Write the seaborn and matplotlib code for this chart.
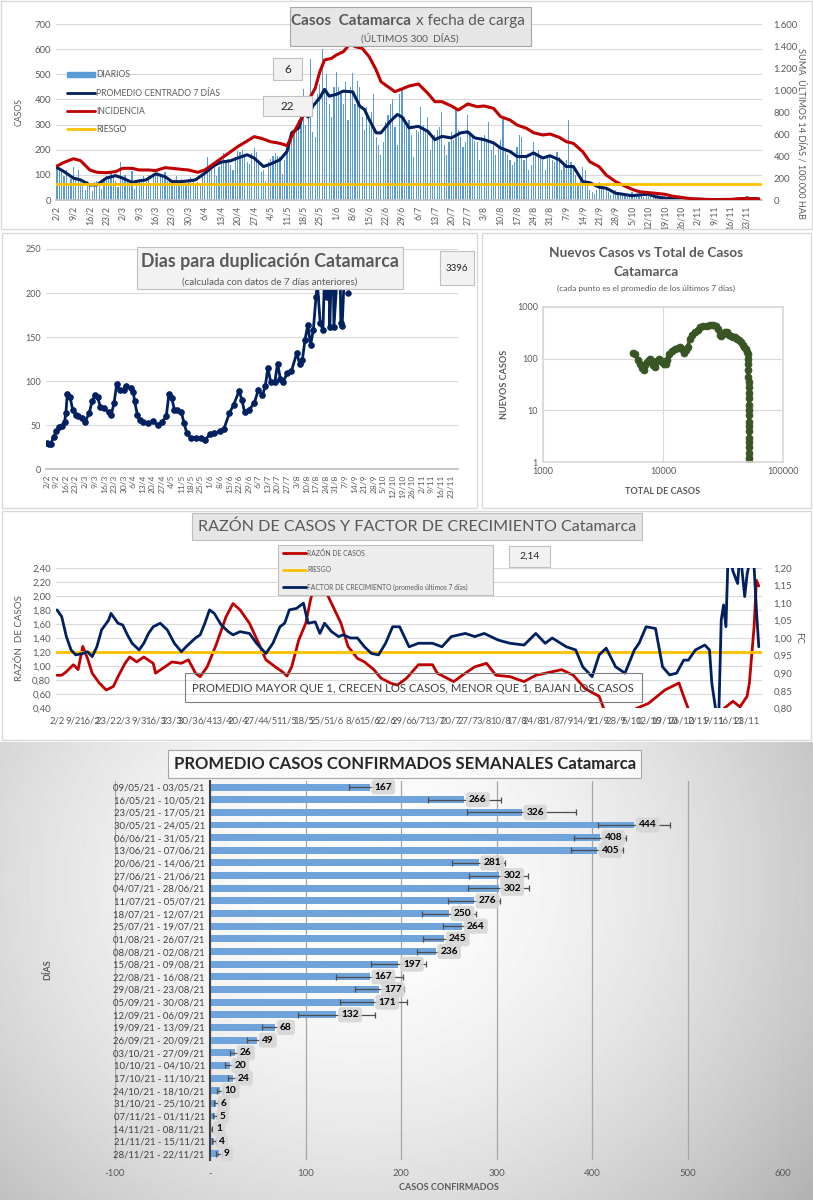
import numpy as np
import pandas as pd
import matplotlib
matplotlib.use("Agg")
import matplotlib.pyplot as plt
import seaborn as sns
from matplotlib.patches import Rectangle, Patch
from matplotlib.lines import Line2D

sns.set_theme(style="white")
plt.rcParams['font.family'] = ['Lato', 'DejaVu Sans']

W, H = 813, 1200
GRIS = '#595959'
AZUL = '#5B9BD5'
NAVY = '#002060'
ROJO = '#C00000'
AMAR = '#FFC000'
VERDE = '#375623'

# ---------------- datos ----------------
inicio = pd.Timestamp('2021-02-02')

# casos diarios (2/2 al 28/11), una semana por fila
diarios = [
    130, 125, 110, 95, 120, 60, 85,
    130, 90, 120, 70, 55, 40, 75,
    65, 35, 70, 75, 55, 45, 80,
    95, 85, 110, 100, 75, 50, 150,
    90, 100, 80, 65, 115, 45, 55,
    85, 80, 95, 70, 100, 60, 90,
    100, 115, 105, 90, 110, 75, 80,
    80, 70, 95, 75, 85, 55, 65,
    85, 90, 75, 60, 70, 55, 100,
    110, 170, 140, 120, 150, 95, 130,
    150, 185, 160, 165, 140, 120, 170,
    195, 190, 200, 175, 150, 145, 185,
    205, 190, 150, 110, 120, 75, 150,
    165, 175, 185, 175, 170, 105, 160,
    190, 210, 270, 260, 300, 320, 330,
    440, 300, 380, 560, 270, 250, 420,
    460, 600, 430, 500, 380, 330, 450,
    510, 450, 420, 380, 470, 320, 450,
    505, 380, 475, 450, 330, 280, 370,
    300, 350, 420, 250, 220, 180, 230,
    310, 340, 380, 400, 290, 220, 420,
    440, 330, 300, 320, 260, 170, 280,
    270, 370, 300, 280, 330, 200, 250,
    260, 280, 290, 350, 220, 180, 230,
    270, 240, 360, 280, 250, 210, 230,
    340, 260, 250, 235, 230, 160, 250,
    260, 240, 310, 200, 220, 180, 210,
    240, 330, 200, 180, 160, 140, 150,
    210, 260, 250, 160, 170, 120, 140,
    230, 190, 200, 180, 160, 120, 170,
    180, 160, 150, 190, 170, 120, 140,
    160, 320, 150, 120, 100, 60, 90,
    130, 120, 70, 40, 30, 25, 40,
    70, 55, 45, 50, 30, 20, 35,
    40, 30, 25, 20, 25, 10, 20,
    30, 25, 20, 20, 15, 10, 15,
    35, 30, 25, 20, 20, 10, 15,
    15, 12, 10, 8, 10, 5, 6,
    8, 6, 7, 5, 6, 3, 4,
    6, 5, 4, 5, 3, 2, 4,
    2, 1, 1, 0, 1, 1, 2,
    3, 5, 4, 6, 4, 3, 5,
    15, 8, 10, 12, 8, 9,
]

prom_fechas = ['2/2', '5/2', '9/2', '12/2', '16/2', '19/2', '23/2', '27/2', '2/3', '6/3', '9/3', '12/3',
               '16/3', '20/3', '23/3', '27/3', '30/3', '2/4', '6/4', '10/4', '13/4', '17/4', '20/4', '24/4',
               '27/4', '1/5', '4/5', '8/5', '11/5', '13/5', '16/5', '18/5', '20/5', '22/5', '25/5', '27/5',
               '29/5', '1/6', '4/6', '8/6', '11/6', '13/6', '15/6', '18/6', '20/6', '24/6', '27/6', '29/6',
               '2/7', '6/7', '10/7', '13/7', '16/7', '20/7', '24/7', '27/7', '30/7', '3/8', '7/8', '10/8',
               '14/8', '17/8', '21/8', '24/8', '28/8', '31/8', '4/9', '7/9', '10/9', '14/9', '17/9', '21/9',
               '24/9', '28/9', '1/10', '5/10', '8/10', '12/10', '15/10', '19/10', '26/10', '2/11', '9/11',
               '16/11', '23/11', '28/11']
prom_valores = [129, 113, 87, 80, 60, 60, 87, 97, 87, 70, 76, 80,
                104, 93, 73, 73, 76, 80, 107, 137, 151, 156, 167, 180,
                167, 133, 143, 160, 193, 267, 287, 347, 330, 373, 407, 440,
                413, 420, 433, 430, 373, 360, 320, 267, 267, 313, 340, 330,
                287, 293, 273, 240, 253, 247, 267, 271, 247, 240, 227, 207,
                193, 173, 173, 187, 167, 176, 160, 133, 133, 73, 69, 51,
                47, 27, 23, 17, 20, 23, 13, 7, 3, 3, 1,
                1, 7, 4]
prom_ultimo = '6'
inc_ultimo = '22'

inc_fechas = ['2/2', '5/2', '9/2', '12/2', '16/2', '19/2', '23/2', '27/2', '2/3', '6/3', '9/3', '13/3',
              '16/3', '20/3', '23/3', '27/3', '30/3', '3/4', '6/4', '10/4', '13/4', '17/4', '20/4', '24/4',
              '27/4', '30/4', '4/5', '8/5', '11/5', '13/5', '16/5', '18/5', '21/5', '23/5', '25/5', '27/5',
              '30/5', '1/6', '4/6', '7/6', '9/6', '12/6', '15/6', '18/6', '20/6', '22/6', '26/6', '29/6',
              '2/7', '6/7', '10/7', '13/7', '16/7', '20/7', '23/7', '27/7', '31/7', '3/8', '7/8', '10/8',
              '14/8', '17/8', '21/8', '24/8', '28/8', '31/8', '4/9', '7/9', '10/9', '14/9', '17/9', '21/9',
              '24/9', '28/9', '1/10', '5/10', '8/10', '12/10', '15/10', '19/10', '22/10', '26/10', '30/10',
              '2/11', '9/11', '16/11', '23/11', '28/11']
inc_valores = [309, 342, 375, 358, 273, 252, 248, 258, 288, 288, 273, 273,
               267, 294, 288, 279, 273, 252, 273, 333, 379, 439, 485, 536,
               576, 561, 530, 515, 494, 576, 697, 773, 939, 1015, 1167, 1273,
               1288, 1318, 1348, 1424, 1394, 1379, 1303, 1182, 1076, 1045, 985, 1010,
               1036, 1055, 970, 894, 894, 855, 818, 873, 848, 855, 833, 758,
               727, 682, 652, 612, 591, 600, 570, 530, 515, 439, 348, 303,
               227, 167, 136, 97, 76, 67, 61, 52, 36, 24, 12,
               9, 3, 6, 15, 9]
riesgo_inc = 150

dup_fechas = ['2/2', '4/2', '5/2', '7/2', '9/2', '11/2', '13/2', '15/2', '16/2', '17/2', '19/2', '21/2',
              '23/2', '25/2', '28/2', '2/3', '5/3', '7/3', '9/3', '11/3', '13/3', '16/3', '19/3', '21/3',
              '23/3', '25/3', '27/3', '30/3', '1/4', '4/4', '6/4', '7/4', '9/4', '11/4', '13/4', '17/4',
              '20/4', '24/4', '27/4', '30/4', '2/5', '4/5', '6/5', '8/5', '11/5', '13/5', '15/5', '18/5',
              '22/5', '25/5', '28/5', '1/6', '4/6', '8/6', '11/6', '15/6', '18/6', '22/6', '24/6', '26/6',
              '29/6', '3/7', '6/7', '9/7', '11/7', '13/7', '15/7', '18/7', '20/7', '22/7', '24/7', '27/7',
              '30/7', '3/8', '5/8', '7/8', '9/8', '11/8', '13/8', '15/8', '17/8', '18/8', '20/8', '22/8',
              '23/8', '25/8', '26/8', '27/8', '28/8', '29/8', '30/8', '2/9', '3/9', '4/9', '5/9', '7/9',
              '8/9', '9/9']
dup_valores = [30, 29, 29, 37, 43, 48, 49, 54, 64, 86, 82, 67,
               62, 60, 58, 54, 64, 77, 84, 82, 71, 69, 65, 62,
               75, 97, 90, 90, 95, 92, 88, 77, 62, 56, 54, 52,
               55, 50, 54, 60, 86, 81, 67, 67, 65, 52, 41, 35,
               35, 36, 33, 40, 41, 43, 46, 64, 73, 89, 79, 65,
               67, 75, 90, 84, 94, 115, 99, 99, 120, 103, 99, 109,
               111, 132, 120, 124, 147, 164, 141, 158, 196, 211, 166, 158,
               211, 196, 270, 162, 219, 290, 162, 234, 300, 166, 163, 237,
               320, 200]
dup_ultimo = '3396'

total_casos = [5600, 5900, 6200, 6500, 6700, 6900, 7100, 7300, 7600, 7800, 8100, 8300, 8600, 8900,
               9200, 9500, 9800, 10100, 10500, 10800, 11200, 11800, 12500, 13300, 13900, 14500, 15000,
               15500, 16000, 16800, 17500, 18500, 19500, 20300, 21500, 23000, 24500, 26000, 27500,
               28500, 29600, 30500, 31500, 32800, 34000, 35500, 37000, 38500, 40000, 41500, 43000,
               44500, 46000, 47500, 48800, 49800, 50500, 50900, 51100, 51200, 51300, 51400, 51450,
               51500, 51550, 51600, 51650, 51700, 51720, 51740, 51760, 51780, 51800, 51810, 51820,
               51830, 51840, 51850]
nuevos_casos = [130, 120, 95, 80, 65, 60, 75, 87, 95, 100, 90, 75, 70, 90,
                100, 95, 85, 78, 80, 95, 120, 140, 150, 160, 170, 150, 130,
                145, 170, 240, 290, 330, 360, 400, 420, 430, 440, 440, 420,
                370, 280, 270, 300, 330, 320, 290, 270, 260, 265, 240, 225,
                205, 185, 170, 150, 135, 120, 100, 80, 60, 45, 35, 28,
                22, 17, 13, 10, 8, 6, 5, 4, 3, 2.5, 2, 1.5,
                1.2, 1.0, 0.8]

razon_fechas = ['2/2', '4/2', '6/2', '9/2', '11/2', '13/2', '15/2', '17/2', '20/2', '23/2', '26/2', '28/2',
                '3/3', '5/3', '8/3', '11/3', '15/3', '16/3', '20/3', '23/3', '27/3', '30/3', '2/4', '4/4',
                '7/4', '11/4', '15/4', '18/4', '21/4', '25/4', '29/4', '2/5', '6/5', '9/5', '11/5', '13/5',
                '16/5', '19/5', '21/5', '23/5', '25/5', '28/5', '31/5', '3/6', '6/6', '10/6', '13/6', '17/6',
                '20/6', '24/6', '27/6', '1/7', '6/7', '12/7', '14/7', '21/7', '26/7', '30/7', '4/8', '8/8',
                '14/8', '20/8', '25/8', '1/9', '5/9', '10/9', '15/9', '21/9', '23/9', '27/9', '3/10', '7/10',
                '12/10', '19/10', '25/10', '27/10', '29/10', '3/11', '10/11', '14/11', '17/11', '20/11',
                '23/11', '24/11', '26/11', '27/11', '28/11']
razon_valores = [0.87, 0.87, 0.92, 1.02, 0.95, 1.28, 1.11, 0.90, 0.76, 0.66, 0.71, 0.85,
                 1.04, 1.13, 1.06, 1.13, 1.04, 0.90, 0.99, 1.06, 1.04, 1.09, 0.90, 0.85,
                 0.99, 1.32, 1.70, 1.89, 1.80, 1.61, 1.32, 1.09, 0.99, 0.92, 0.86, 0.99,
                 1.37, 1.61, 1.94, 2.20, 2.30, 2.03, 1.82, 1.61, 1.28, 1.11, 1.06, 0.95,
                 0.83, 0.76, 0.73, 0.83, 1.02, 1.02, 0.90, 0.78, 0.90, 0.99, 1.04, 0.87,
                 0.85, 0.78, 0.87, 0.92, 0.95, 0.87, 0.68, 0.57, 0.39, 0.30, 0.30, 0.40,
                 0.47, 0.66, 0.76, 0.57, 0.39, 0.30, 0.30, 0.42, 0.50, 0.42,
                 0.57, 0.76, 1.56, 2.22, 2.14]
riesgo_razon = 1.20
razon_ultimo = '2,14'

fc_fechas = ['2/2', '4/2', '6/2', '8/2', '10/2', '13/2', '15/2', '17/2', '19/2', '21/2', '24/2', '25/2',
             '28/2', '2/3', '4/3', '6/3', '9/3', '11/3', '13/3', '15/3', '18/3', '21/3', '24/3', '27/3',
             '29/3', '2/4', '4/4', '6/4', '8/4', '10/4', '13/4', '16/4', '18/4', '21/4', '25/4', '28/4',
             '2/5', '5/5', '8/5', '10/5', '12/5', '15/5', '18/5', '20/5', '23/5', '25/5', '27/5', '30/5',
             '2/6', '4/6', '7/6', '10/6', '13/6', '16/6', '19/6', '22/6', '25/6', '28/6', '2/7', '6/7',
             '12/7', '16/7', '20/7', '26/7', '30/7', '3/8', '9/8', '14/8', '20/8', '25/8', '29/8', '1/9',
             '7/9', '11/9', '14/9', '18/9', '21/9', '24/9', '28/9', '2/10', '6/10', '8/10', '11/10',
             '15/10', '18/10', '21/10', '24/10', '27/10', '29/10', '1/11', '5/11', '7/11', '8/11',
             '10/11', '11/11', '12/11', '13/11', '14/11', '15/11', '17/11', '19/11', '20/11', '22/11',
             '23/11', '25/11', '26/11', '27/11', '28/11']
fc_valores = [1.080, 1.061, 1.004, 0.966, 0.952, 0.956, 0.961, 0.947, 0.975, 1.023, 1.051, 1.070,
              1.042, 1.037, 1.009, 0.985, 0.966, 0.985, 1.013, 1.032, 1.042, 1.023, 0.985, 0.961,
              0.975, 1.000, 1.009, 1.042, 1.080, 1.070, 1.037, 1.018, 1.009, 1.018, 1.013, 0.985,
              0.956, 0.985, 1.032, 1.042, 1.080, 1.084, 1.099, 1.042, 1.046, 1.013, 1.042, 1.018,
              1.004, 1.009, 1.000, 1.000, 0.975, 0.956, 0.952, 0.985, 1.032, 1.032, 0.975, 0.985,
              0.985, 0.975, 1.004, 1.013, 1.004, 1.013, 0.994, 0.985, 0.980, 1.013, 0.985, 1.000,
              0.975, 0.966, 0.918, 0.890, 0.952, 0.971, 0.918, 0.900, 0.966, 0.985, 1.032,
              1.027, 0.918, 0.895, 0.900, 0.937, 0.937, 0.966, 0.980, 0.966, 0.871,
              0.780, 0.790, 1.051, 1.094, 1.032, 1.250, 1.190, 1.155, 1.250, 1.118,
              1.180, 1.250, 1.203, 1.080, 0.975]

semanas = ['09/05/21 - 03/05/21', '16/05/21 - 10/05/21', '23/05/21 - 17/05/21', '30/05/21 - 24/05/21',
           '06/06/21 - 31/05/21', '13/06/21 - 07/06/21', '20/06/21 - 14/06/21', '27/06/21 - 21/06/21',
           '04/07/21 - 28/06/21', '11/07/21 - 05/07/21', '18/07/21 - 12/07/21', '25/07/21 - 19/07/21',
           '01/08/21 - 26/07/21', '08/08/21 - 02/08/21', '15/08/21 - 09/08/21', '22/08/21 - 16/08/21',
           '29/08/21 - 23/08/21', '05/09/21 - 30/08/21', '12/09/21 - 06/09/21', '19/09/21 - 13/09/21',
           '26/09/21 - 20/09/21', '03/10/21 - 27/09/21', '10/10/21 - 04/10/21', '17/10/21 - 11/10/21',
           '24/10/21 - 18/10/21', '31/10/21 - 25/10/21', '07/11/21 - 01/11/21', '14/11/21 - 08/11/21',
           '21/11/21 - 15/11/21', '28/11/21 - 22/11/21']
promedio_sem = [167, 266, 326, 444, 408, 405, 281, 302, 302, 276, 250, 264, 245, 236, 197,
                167, 177, 171, 132, 68, 49, 26, 20, 24, 10, 6, 5, 1, 4, 9]
error_sem = [22, 38, 57, 38, 27, 27, 28, 31, 32, 27, 28, 20, 22, 20, 29,
             35, 26, 35, 40, 14, 11, 5, 5, 6, 3, 2, 2, 1, 2, 3]


def dia(s):
    d, m = s.split('/')
    return (pd.Timestamp(2021, int(m), int(d)) - inicio).days


ticks_sem = list(range(0, 295, 7))
ticks_lab = [f"{(inicio + pd.Timedelta(days=k)).day}/{(inicio + pd.Timedelta(days=k)).month}" for k in ticks_sem]

fig = plt.figure(figsize=(8.13, 12), dpi=100, facecolor='white')


def ax_px(x0, y0, x1, y1, **kw):
    return fig.add_axes([x0 / W, 1 - y1 / H, (x1 - x0) / W, (y1 - y0) / H], **kw)


def cajita(x0, y0, x1, y1, fc='#F2F2F2', ec='#BFBFBF', lw=0.8, z=5):
    fig.add_artist(Rectangle((x0 / W, 1 - y1 / H), (x1 - x0) / W, (y1 - y0) / H,
                             transform=fig.transFigure, fc=fc, ec=ec, lw=lw, zorder=z))


def texto(x, y, s, **kw):
    kw.setdefault('color', GRIS)
    kw.setdefault('zorder', 6)
    kw.setdefault('ha', 'center')
    kw.setdefault('va', 'center')
    fig.text(x / W, 1 - y / H, s, **kw)


def limpiar(ax):
    for s in ax.spines.values():
        s.set_visible(False)
    ax.set_xlabel('')
    ax.set_ylabel('')


# marcos de los paneles
for (a, b, c, d) in [(1, 1, 812, 229), (2, 233, 477, 508), (482, 233, 811, 508), (2, 511, 811, 740)]:
    cajita(a, b, c, d, fc='none', ec='#D9D9D9', lw=1, z=0.5)

# ================= Panel 1: casos por fecha de carga =================
ax1 = ax_px(55.8, 24, 762.3, 200)
dias = np.arange(len(diarios))
sns.barplot(x=dias, y=diarios, native_scale=True, color=AZUL, width=0.5, linewidth=0,
            errorbar=None, saturation=1, ax=ax1)
sns.lineplot(x=[dia(f) for f in prom_fechas], y=prom_valores, color=NAVY, lw=2.2, ax=ax1)
ax1b = ax1.twinx()
sns.lineplot(x=[dia(f) for f in inc_fechas], y=inc_valores, color=ROJO, lw=2.2, ax=ax1b)
ax1b.axhline(riesgo_inc, color=AMAR, lw=2)
limpiar(ax1)
limpiar(ax1b)
ax1.spines['bottom'].set_visible(True)
ax1.spines['bottom'].set_color('#BFBFBF')
ax1.set_ylim(0, 700)
ax1b.set_ylim(0, 1600)
ax1.set_xlim(-0.5, 300.5)
ax1.set_yticks(range(0, 701, 100))
ax1b.set_yticks(range(0, 1601, 200))
ax1b.set_yticklabels([f"{v:,}".replace(',', '.') for v in range(0, 1601, 200)])
ax1.yaxis.grid(True, color='#D9D9D9', lw=0.8)
ax1.set_axisbelow(True)
ax1.set_xticks(ticks_sem)
ax1.set_xticklabels(ticks_lab, rotation=90)
ax1.tick_params(axis='x', length=3, color='#BFBFBF', labelsize=6.3, labelcolor=GRIS, pad=1)
ax1.tick_params(axis='y', length=0, labelsize=6.8, labelcolor=GRIS)
ax1b.tick_params(axis='y', length=0, labelsize=6.8, labelcolor=GRIS, pad=8)
ax1.set_ylabel('CASOS', fontsize=6.3, color=GRIS, labelpad=8)
texto(801, 133, 'SUMA  ÚLTIMOS 14 DÍAS / 100.000 HAB', fontsize=6.6, rotation=270)
ax1b.legend(handles=[Patch(color=AZUL, label='DIARIOS'),
                     Line2D([], [], color=NAVY, lw=2, label='PROMEDIO CENTRADO 7 DÍAS'),
                     Line2D([], [], color=ROJO, lw=2, label='INCIDENCIA'),
                     Line2D([], [], color=AMAR, lw=2, label='RIESGO')],
            loc='upper left', bbox_to_anchor=(0.005, 0.78), frameon=False, fontsize=6.2,
            labelcolor=GRIS, handlelength=3.3, handleheight=0.6, labelspacing=1.05, handletextpad=0.1)

cajita(290, 7, 531, 46, fc='#E7E6E6', ec='#A6A6A6', z=5)
texto(411, 21, 'Casos  Catamarca', fontsize=11, fontweight='bold', ha='right')
texto(416, 21, 'x fecha de carga', fontsize=11, ha='left')
texto(410, 38, '(ÚLTIMOS 300  DÍAS)', fontsize=7.3)
cajita(273, 58, 302, 80, fc='#F2F2F2', ec='#BFBFBF', z=5)
texto(287.5, 69.5, prom_ultimo, fontsize=8.5, color='#262626')
cajita(263, 96, 312, 116, fc='#F2F2F2', ec='#BFBFBF', z=5)
texto(287.5, 106.5, inc_ultimo, fontsize=8.5, color='#262626')

# ================= Panel 2: días para duplicación =================
ax2 = ax_px(46, 249, 457.6, 469.3)
x_dup = [dia(f) for f in dup_fechas]
sns.lineplot(x=x_dup[:-1], y=dup_valores[:-1], color=NAVY, lw=2, marker='o', markersize=4,
             markeredgecolor=NAVY, ax=ax2)
sns.scatterplot(x=x_dup[-1:], y=dup_valores[-1:], color=NAVY, s=18, edgecolor=NAVY, ax=ax2)
limpiar(ax2)
ax2.spines['bottom'].set_visible(True)
ax2.spines['bottom'].set_color('#BFBFBF')
ax2.set_xlim(-0.5, 299)
ax2.set_ylim(0, 250)
ax2.set_yticks(range(0, 251, 50))
ax2.yaxis.grid(True, color='#D9D9D9', lw=0.8)
ax2.set_axisbelow(True)
ax2.set_xticks(ticks_sem)
ax2.set_xticklabels(ticks_lab, rotation=90)
ax2.tick_params(axis='x', length=3, color='#BFBFBF', labelsize=6, labelcolor=GRIS, pad=1)
ax2.tick_params(axis='y', length=0, labelsize=6.5, labelcolor=GRIS)
cajita(137, 247, 403, 289, fc='#F2F2F2', ec='#BFBFBF', z=5)
texto(270, 262, 'Dias para duplicación Catamarca', fontsize=12.8, fontweight='bold')
texto(270, 282, '(calculada con datos de 7 días anteriores)', fontsize=7)
cajita(440, 251, 474, 285, fc='#F2F2F2', ec='#BFBFBF', z=5)
texto(457, 268, dup_ultimo, fontsize=7, color='#262626')

# ================= Panel 3: nuevos vs total =================
ax3 = ax_px(542.7, 306.7, 783.3, 462.3)
sns.lineplot(x=total_casos, y=nuevos_casos, color=VERDE, lw=2.5, marker='o', markersize=4.8,
             markeredgecolor=VERDE, sort=False, ax=ax3)
ax3.set_xscale('log')
ax3.set_yscale('log')
ax3.set_xlim(1e3, 1e5)
ax3.set_ylim(1, 1e3)
for s in ax3.spines.values():
    s.set_color('#D9D9D9')
ax3.grid(True, which='major', color='#D9D9D9', lw=0.8)
ax3.set_xticks([1e3, 1e4, 1e5])
ax3.set_xticklabels(['1000', '10000', '100000'])
ax3.set_yticks([1, 10, 100, 1000])
ax3.set_yticklabels(['1', '10', '100', '1000'])
ax3.minorticks_off()
ax3.tick_params(length=0, labelsize=6.5, labelcolor=GRIS)
ax3.set_xlabel('TOTAL DE CASOS', fontsize=6.5, fontweight='bold', color=GRIS, labelpad=8)
ax3.set_ylabel('NUEVOS CASOS', fontsize=6.5, fontweight='bold', color=GRIS, labelpad=6)
texto(646, 253, 'Nuevos Casos vs Total de Casos', fontsize=9.8, fontweight='bold')
texto(646, 272, 'Catamarca', fontsize=9.8, fontweight='bold')
texto(646, 288, '(cada punto es el promedio de los últimos 7 días)', fontsize=6)

# ================= Panel 4: razón y factor de crecimiento =================
ax4 = ax_px(55.8, 567.7, 762.3, 708.3)
sns.lineplot(x=[dia(f) for f in razon_fechas], y=razon_valores, color=ROJO, lw=2, ax=ax4)
ax4.axhline(riesgo_razon, color=AMAR, lw=2)
ax4b = ax4.twinx()
sns.lineplot(x=[dia(f) for f in fc_fechas], y=fc_valores, color=NAVY, lw=2, ax=ax4b)
limpiar(ax4)
limpiar(ax4b)
ax4.set_xlim(-0.5, 300.5)
ax4.set_ylim(0.40, 2.40)
ax4b.set_ylim(0.80, 1.20)
yt = np.round(np.arange(0.40, 2.41, 0.20), 2)
ax4.set_yticks(yt)
ax4.set_yticklabels([f"{v:.2f}".replace('.', ',') for v in yt])
yt2 = np.round(np.arange(0.80, 1.201, 0.05), 2)
ax4b.set_yticks(yt2)
ax4b.set_yticklabels([f"{v:.2f}".replace('.', ',') for v in yt2])
ax4.yaxis.grid(True, color='#D9D9D9', lw=0.8)
ax4.set_axisbelow(True)
ax4.set_xticks(ticks_sem)
ax4.set_xticklabels(ticks_lab, rotation=0)
ax4.tick_params(axis='x', length=0, labelsize=6.8, labelcolor=GRIS, pad=6)
ax4.tick_params(axis='y', length=0, labelsize=6.8, labelcolor=GRIS)
ax4b.tick_params(axis='y', length=0, labelsize=6.8, labelcolor=GRIS, pad=8)
ax4.set_ylabel('RAZÓN  DE CASOS', fontsize=7, color=GRIS, labelpad=6)
ax4b.set_ylabel('FC', fontsize=7, color=GRIS, rotation=270, labelpad=8)

cajita(192, 513, 642, 540, fc='#E7E6E6', ec='#BFBFBF', z=5)
texto(417, 527, 'RAZÓN DE CASOS Y FACTOR DE CRECIMIENTO Catamarca', fontsize=11.6)
cajita(278, 545, 493, 595, fc='#EDEDED', ec='#BFBFBF', z=5)
for yy, col, lab in [(553, ROJO, 'RAZÓN DE CASOS'), (570, AMAR, 'RIESGO'),
                     (587, NAVY, 'FACTOR DE CRECIMIENTO (promedio últimos 7 días)')]:
    fig.add_artist(Line2D([283 / W, 306 / W], [1 - yy / H, 1 - yy / H], transform=fig.transFigure,
                          color=col, lw=2, zorder=6))
    texto(307, yy, lab, fontsize=4.9, ha='left')
cajita(509, 546, 550, 567, fc='#F2F2F2', ec='#BFBFBF', z=5)
texto(529.5, 556.5, razon_ultimo, fontsize=7.5, color='#262626')
cajita(185, 673, 642, 702, fc='none', ec='#7F7F7F', z=5)
texto(413, 688, 'PROMEDIO MAYOR QUE 1, CRECEN LOS CASOS, MENOR QUE 1, BAJAN LOS CASOS',
      fontsize=8.2, color='#404040')

# ================= Panel 5: promedio semanal =================
axbg = ax_px(0, 742, 813, 1200, zorder=-5)
gy, gx = np.mgrid[0:458, 0:813]
rr = np.sqrt(((gx - 360) / 520.0) ** 2 + ((gy - 140) / 470.0) ** 2)
axbg.imshow(1 - 0.26 * np.clip(rr, 0, 1.3) ** 1.7, cmap='gray', vmin=0, vmax=1, aspect='auto')
axbg.set_axis_off()

ax5 = ax_px(115, 780.7, 783, 1160.3, facecolor='none')
sns.barplot(x=promedio_sem, y=semanas, orient='h', color='#6FA3DB', width=0.55, linewidth=0,
            errorbar=None, saturation=1, ax=ax5)
ax5.errorbar(promedio_sem, np.arange(len(semanas)), xerr=error_sem, fmt='none', ecolor='#4D4D4D',
             elinewidth=0.9, capsize=2, capthick=0.9, zorder=3)
for i, v in enumerate(promedio_sem):
    ax5.text(v + 5, i, str(v), ha='left', va='center', fontsize=7.3, fontweight='bold', color='black',
             zorder=5, bbox=dict(boxstyle='round,pad=0.3', fc='#D6D6D6', ec='none', alpha=0.9))
limpiar(ax5)
ax5.set_xlim(-100, 600)
ax5.set_ylim(len(semanas) - 0.5, -0.5)
ax5.spines['left'].set_visible(True)
ax5.spines['left'].set_position(('data', 0))
ax5.spines['left'].set_color('#404040')
ax5.spines['left'].set_linewidth(1.5)
ax5.set_xticks(range(-100, 601, 100))
ax5.set_xticklabels(['-100', '-', '100', '200', '300', '400', '500', '600'])
ax5.xaxis.grid(True, color='#A6A6A6', lw=0.9)
ax5.set_axisbelow(True)
ax5.tick_params(axis='x', length=0, labelsize=7, labelcolor=GRIS, pad=6)
ax5.tick_params(axis='y', length=0, labelsize=6.8, labelcolor='#404040', pad=4)
ax5.set_xlabel('CASOS CONFIRMADOS', fontsize=6.5, fontweight='bold', color=GRIS, labelpad=4)
texto(48, 970, 'DÍAS', fontsize=6.5, fontweight='bold', rotation=90)
cajita(168, 750, 641, 778, fc='#FAFAFA', ec='#A6A6A6', z=5)
texto(405, 764, 'PROMEDIO CASOS CONFIRMADOS SEMANALES Catamarca', fontsize=12,
      fontweight='bold', color='#262626')

fig.savefig('out.png', dpi=100, facecolor='white')
